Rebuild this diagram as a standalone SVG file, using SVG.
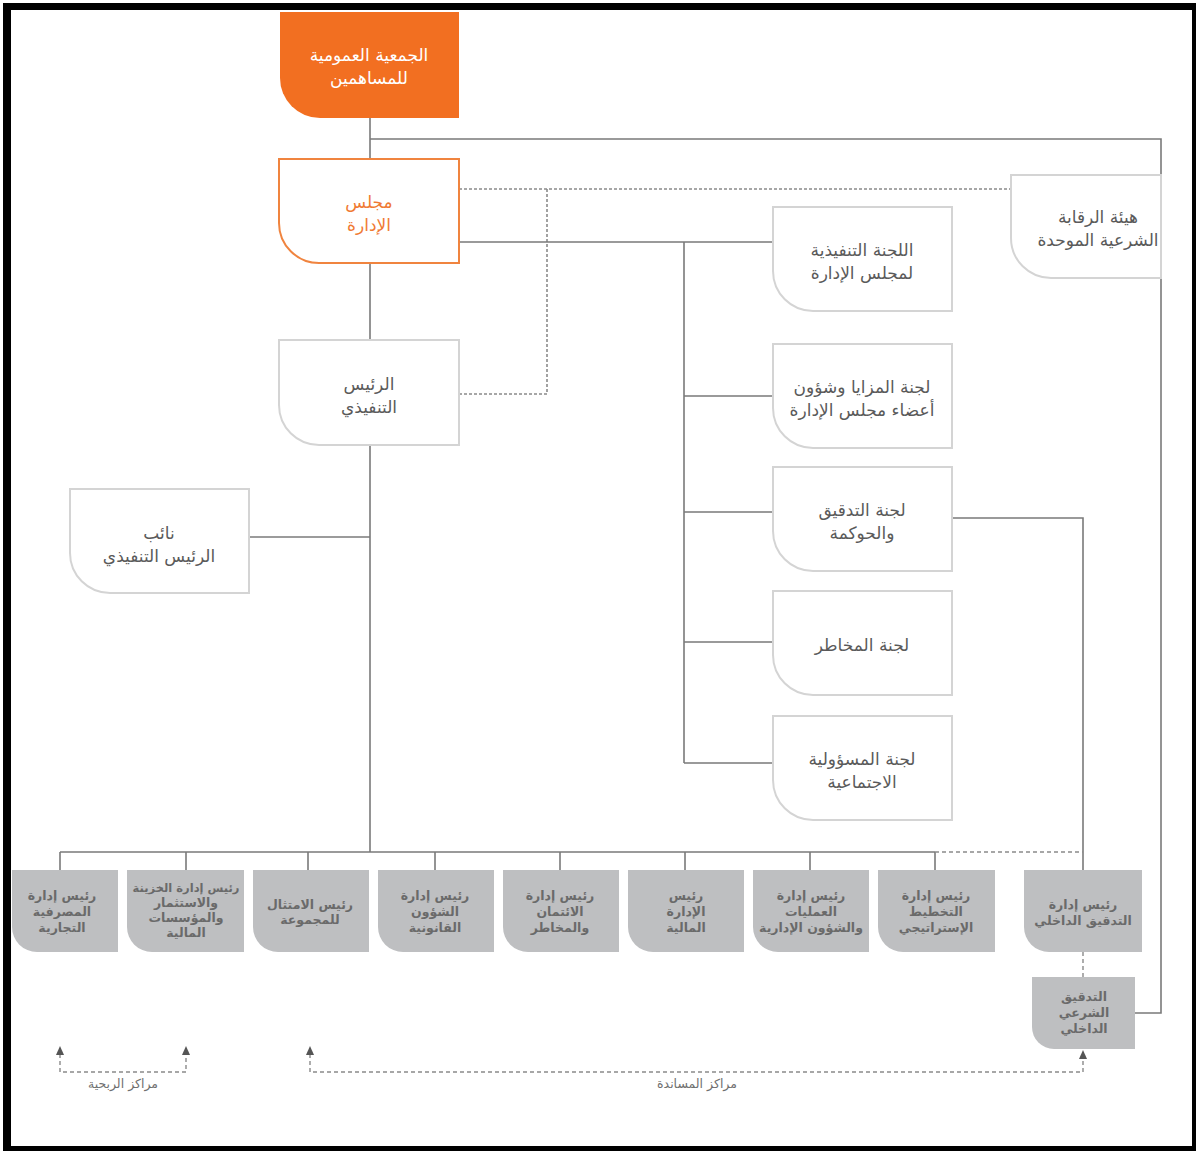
<svg xmlns="http://www.w3.org/2000/svg" width="1198" height="1153" viewBox="0 0 1198 1153">
<defs>
<style>
.ln{fill:none;stroke:#7a7a7a;stroke-width:1.6}
.dt{fill:none;stroke:#8a8a8a;stroke-width:1.6;stroke-dasharray:3 2}
.ds{fill:none;stroke:#8a8a8a;stroke-width:1.4;stroke-dasharray:4 3}
.ah{fill:#555}
.bx{fill:#ffffff;stroke:#d4d4d4;stroke-width:2}
.gb{fill:#bebfc1}
.t{font-family:"DejaVu Sans",sans-serif;font-size:17px;fill:#5a5a5a;text-anchor:middle}
.tg{font-family:"DejaVu Sans",sans-serif;font-size:12.5px;fill:#6a6a6a;text-anchor:middle;font-weight:bold}
.tl{font-family:"DejaVu Sans",sans-serif;font-size:12.5px;fill:#707070;text-anchor:middle}
</style>
</defs>
<rect width="1198" height="1153" fill="#fff"/>
<g id="frame" fill="#000">
<rect x="3" y="3" width="1193" height="7"/>
<rect x="3" y="3" width="8" height="1148"/>
<rect x="1192" y="3" width="4" height="1148"/>
<rect x="3" y="1146" width="1193" height="5"/>
</g>
<g id="connectors">
<path class="ln" d="M370,118 V159 M370,263 V340 M370,445 V852"/>
<path class="ln" d="M370,139 H1161 V175 M1161,278 V1013 H1135"/>
<path class="dt" d="M459,189 H1011 M547,189 V394 H459"/>
<path class="ln" d="M459,242 H773 M684,242 V763 M684,396 H773 M684,512 H773 M684,642 H773 M684,763 H773"/>
<path class="ln" d="M952,518 H1083 V870"/>
<path class="ln" d="M249,537 H370"/>
<path class="ln" d="M60,852 H935 M60,852 V870 M186,852 V870 M308,852 V870 M435,852 V870 M560,852 V870 M685,852 V870 M810,852 V870 M935,852 V870"/>
<path class="ds" d="M935,852 H1083"/>
<path class="ds" d="M1083,952 V977"/>
<path class="ds" d="M60,1054 V1072 H186 V1054"/>
<path class="ds" d="M310,1054 V1072 H1083 V1058"/>
<polygon class="ah" points="56,1055 60,1046 64,1055"/>
<polygon class="ah" points="182,1055 186,1046 190,1055"/>
<polygon class="ah" points="306,1055 310,1046 314,1055"/>
<polygon class="ah" points="1079,1059 1083,1050 1087,1059"/>
</g>
<g id="general-assembly">
<path d="M280,12 H459 V118 H320 A40,40 0 0 1 280,78 Z" fill="#f26f21"/>
<text class="t" x="369" y="61" style="fill:#fff">الجمعية العمومية</text>
<text class="t" x="369" y="84" style="fill:#fff">للمساهمين</text>
</g>
<g id="board">
<path d="M279,159 H459 V263 H319 A40,40 0 0 1 279,223 Z" fill="#fff" stroke="#f0843f" stroke-width="2"/>
<text class="t" x="369" y="208" style="fill:#f07a33">مجلس</text>
<text class="t" x="369" y="231" style="fill:#f07a33">الإدارة</text>
</g>
<g id="ceo">
<path class="bx" d="M279,340 H459 V445 H319 A40,40 0 0 1 279,405 Z"/>
<text class="t" x="369" y="390">الرئيس</text>
<text class="t" x="369" y="413">التنفيذي</text>
</g>
<g id="deputy-ceo">
<path class="bx" d="M70,489 H249 V593 H110 A40,40 0 0 1 70,553 Z"/>
<text class="t" x="159" y="539">نائب</text>
<text class="t" x="159" y="562">الرئيس التنفيذي</text>
</g>
<g id="sharia-board">
<path class="bx" d="M1011,175 H1161 V278 H1051 A40,40 0 0 1 1011,238 Z"/>
<text class="t" x="1098" y="223">هيئة الرقابة</text>
<text class="t" x="1098" y="246">الشرعية الموحدة</text>
</g>
<g id="exec-committee">
<path class="bx" d="M773,207 H952 V311 H813 A40,40 0 0 1 773,271 Z"/>
<text class="t" x="862" y="256">اللجنة التنفيذية</text>
<text class="t" x="862" y="279">لمجلس الإدارة</text>
</g>
<g id="remuneration-committee">
<path class="bx" d="M773,344 H952 V448 H813 A40,40 0 0 1 773,408 Z"/>
<text class="t" x="862" y="393">لجنة المزايا وشؤون</text>
<text class="t" x="862" y="416">أعضاء مجلس الإدارة</text>
</g>
<g id="audit-committee">
<path class="bx" d="M773,467 H952 V571 H813 A40,40 0 0 1 773,531 Z"/>
<text class="t" x="862" y="516">لجنة التدقيق</text>
<text class="t" x="862" y="539">والحوكمة</text>
</g>
<g id="risk-committee">
<path class="bx" d="M773,591 H952 V695 H813 A40,40 0 0 1 773,655 Z"/>
<text class="t" x="862" y="651">لجنة المخاطر</text>
</g>
<g id="csr-committee">
<path class="bx" d="M773,716 H952 V820 H813 A40,40 0 0 1 773,780 Z"/>
<text class="t" x="862" y="765">لجنة المسؤولية</text>
<text class="t" x="862" y="788">الاجتماعية</text>
</g>
<g id="commercial-banking">
<path class="gb" d="M12,870 H118 V952 H37 A25,25 0 0 1 12,927 Z"/>
<text class="tg" x="62" y="900">رئيس إدارة</text>
<text class="tg" x="62" y="916">المصرفية</text>
<text class="tg" x="62" y="932">التجارية</text>
</g>
<g id="treasury">
<path class="gb" d="M127,870 H244 V952 H152 A25,25 0 0 1 127,927 Z"/>
<text class="tg" x="186" y="892" style="font-size:11.5px">رئيس إدارة الخزينة</text>
<text class="tg" x="186" y="907">والاستثمار</text>
<text class="tg" x="186" y="922">والمؤسسات</text>
<text class="tg" x="186" y="937">المالية</text>
</g>
<g id="compliance">
<path class="gb" d="M253,870 H369 V952 H278 A25,25 0 0 1 253,927 Z"/>
<text class="tg" x="310" y="909">رئيس الامتثال</text>
<text class="tg" x="310" y="924">للمجموعة</text>
</g>
<g id="legal">
<path class="gb" d="M378,870 H494 V952 H403 A25,25 0 0 1 378,927 Z"/>
<text class="tg" x="435" y="900">رئيس إدارة</text>
<text class="tg" x="435" y="916">الشؤون</text>
<text class="tg" x="435" y="932">القانونية</text>
</g>
<g id="credit-risk">
<path class="gb" d="M503,870 H619 V952 H528 A25,25 0 0 1 503,927 Z"/>
<text class="tg" x="560" y="900">رئيس إدارة</text>
<text class="tg" x="560" y="916">الائتمان</text>
<text class="tg" x="560" y="932">والمخاطر</text>
</g>
<g id="finance">
<path class="gb" d="M628,870 H744 V952 H653 A25,25 0 0 1 628,927 Z"/>
<text class="tg" x="686" y="900">رئيس</text>
<text class="tg" x="686" y="916">الإدارة</text>
<text class="tg" x="686" y="932">المالية</text>
</g>
<g id="operations">
<path class="gb" d="M753,870 H869 V952 H778 A25,25 0 0 1 753,927 Z"/>
<text class="tg" x="811" y="900">رئيس إدارة</text>
<text class="tg" x="811" y="916">العمليات</text>
<text class="tg" x="811" y="932">والشؤون الإدارية</text>
</g>
<g id="strategy">
<path class="gb" d="M878,870 H995 V952 H903 A25,25 0 0 1 878,927 Z"/>
<text class="tg" x="936" y="900">رئيس إدارة</text>
<text class="tg" x="936" y="916">التخطيط</text>
<text class="tg" x="936" y="932">الإستراتيجي</text>
</g>
<g id="internal-audit">
<path class="gb" d="M1024,870 H1142 V952 H1049 A25,25 0 0 1 1024,927 Z"/>
<text class="tg" x="1083" y="909">رئيس إدارة</text>
<text class="tg" x="1083" y="925">التدقيق الداخلي</text>
</g>
<g id="sharia-audit">
<path class="gb" d="M1032,977 H1135 V1049 H1054 A22,22 0 0 1 1032,1027 Z"/>
<text class="tg" x="1084" y="1001">التدقيق</text>
<text class="tg" x="1084" y="1017">الشرعي</text>
<text class="tg" x="1084" y="1033">الداخلي</text>
</g>
<g id="labels">
<text class="tl" x="123" y="1088">مراكز الربحية</text>
<text class="tl" x="697" y="1088">مراكز المساندة</text>
</g>
</svg>
